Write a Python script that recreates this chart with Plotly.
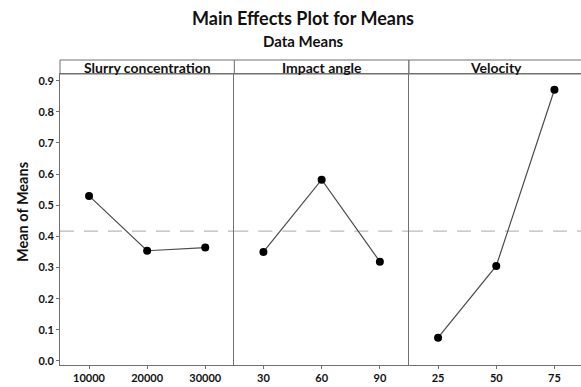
import plotly.graph_objects as go
from plotly.subplots import make_subplots

# Factor names and their levels
factors = ["Slurry concentration", "Impact angle", "Velocity"]
slurry_levels = ["10000", "20000", "30000"]
angle_levels = ["30", "60", "90"]
velocity_levels = ["25", "50", "75"]

# Mean of means at each level
slurry_means = [0.530, 0.354, 0.364]
angle_means = [0.350, 0.582, 0.319]
velocity_means = [0.075, 0.305, 0.871]

# Overall mean (reference line)
grand_mean = 0.417

y_ticks = [0.0, 0.1, 0.2, 0.3, 0.4, 0.5, 0.6, 0.7, 0.8, 0.9]

W, H = 581, 387
L, R, T, B = 60, 0, 74, 22
plot_w = W - L - R
plot_h = H - T - B

FONT = "Lato"
FRAME = "#707070"

# panel edges in pixels; the last panel runs off the right edge of the page
edges_px = [60, 234.3, 409, 581]
panel_w = 174.5
domains = [[(edges_px[k] - L) / plot_w, (edges_px[k + 1] - L) / plot_w] for k in range(3)]
x_ranges = [[-0.5, 2.5], [-0.5, 2.5],
            [-0.5, -0.5 + 3 * (edges_px[3] - edges_px[2]) / panel_w]]

fig = make_subplots(rows=1, cols=3, shared_yaxes=True, horizontal_spacing=0)

series = [(slurry_levels, slurry_means), (angle_levels, angle_means),
          (velocity_levels, velocity_means)]

for i, (lv, mv) in enumerate(series, start=1):
    fig.add_trace(go.Scatter(
        x=lv, y=mv, mode="lines+markers",
        line=dict(color="#4a4a4a", width=1.2),
        marker=dict(color="#000000", size=8),
        showlegend=False, hoverinfo="x+y"), row=1, col=i)
    # dashed line at the overall mean across the panel
    fig.add_hline(y=grand_mean, line=dict(color="#a8a8a8", width=1, dash="14px,10px"),
                  layer="below", row=1, col=i)
    fig.update_xaxes(
        type="category", categoryorder="array", categoryarray=lv,
        domain=domains[i - 1], range=x_ranges[i - 1],
        showgrid=False, zeroline=False,
        showline=True, linecolor=FRAME, linewidth=1, mirror=True,
        ticks="outside", ticklen=3, tickcolor=FRAME,
        tickfont=dict(family=FONT, size=11, color="#111111", weight="bold"),
        row=1, col=i)
    fig.update_yaxes(
        range=[-0.0129, 0.9215], showgrid=False, zeroline=False,
        showline=True, linecolor=FRAME, linewidth=1, mirror=False,
        row=1, col=i)

fig.update_yaxes(
    tickvals=y_ticks, ticktext=[f"{v:.1f}" for v in y_ticks],
    ticks="outside", ticklen=3, tickcolor=FRAME,
    tickfont=dict(family=FONT, size=11, color="#111111", weight="bold"),
    row=1, col=1)

# Strip headers above each panel
head_top = 1 + 14 / plot_h
for i, name in enumerate(factors):
    d0, d1 = domains[i]
    full_end = d0 + panel_w / plot_w
    fig.add_shape(type="rect", xref="paper", yref="paper",
                  x0=d0, x1=full_end, y0=1, y1=head_top,
                  line=dict(color=FRAME, width=1), fillcolor="white", layer="below")
    fig.add_annotation(x=(d0 + full_end) / 2, y=(1 + head_top) / 2,
                       xref="paper", yref="paper", text=name, showarrow=False,
                       font=dict(family=FONT, size=14, color="#111111", weight="bold"),
                       xanchor="center", yanchor="middle")

# Titles
def px_x(px):
    return (px - L) / plot_w

def px_y(py):
    return (H - B - py) / plot_h

fig.add_annotation(x=px_x(303), y=px_y(18), xref="paper", yref="paper",
                   text="Main Effects Plot for Means", showarrow=False,
                   font=dict(family=FONT, size=18, color="#111111", weight="bold"),
                   xanchor="center", yanchor="middle")
fig.add_annotation(x=px_x(303), y=px_y(41), xref="paper", yref="paper",
                   text="Data Means", showarrow=False,
                   font=dict(family=FONT, size=15, color="#111111", weight="bold"),
                   xanchor="center", yanchor="middle")
fig.add_annotation(x=px_x(22), y=px_y(212), xref="paper", yref="paper",
                   text="Mean of Means", showarrow=False, textangle=-90,
                   font=dict(family=FONT, size=14.5, color="#111111", weight="bold"),
                   xanchor="center", yanchor="middle")

fig.update_layout(
    width=W, height=H,
    margin=dict(l=L, r=R, t=T, b=B),
    paper_bgcolor="white", plot_bgcolor="white",
    font=dict(family=FONT),
)

fig.write_html("out.html")
